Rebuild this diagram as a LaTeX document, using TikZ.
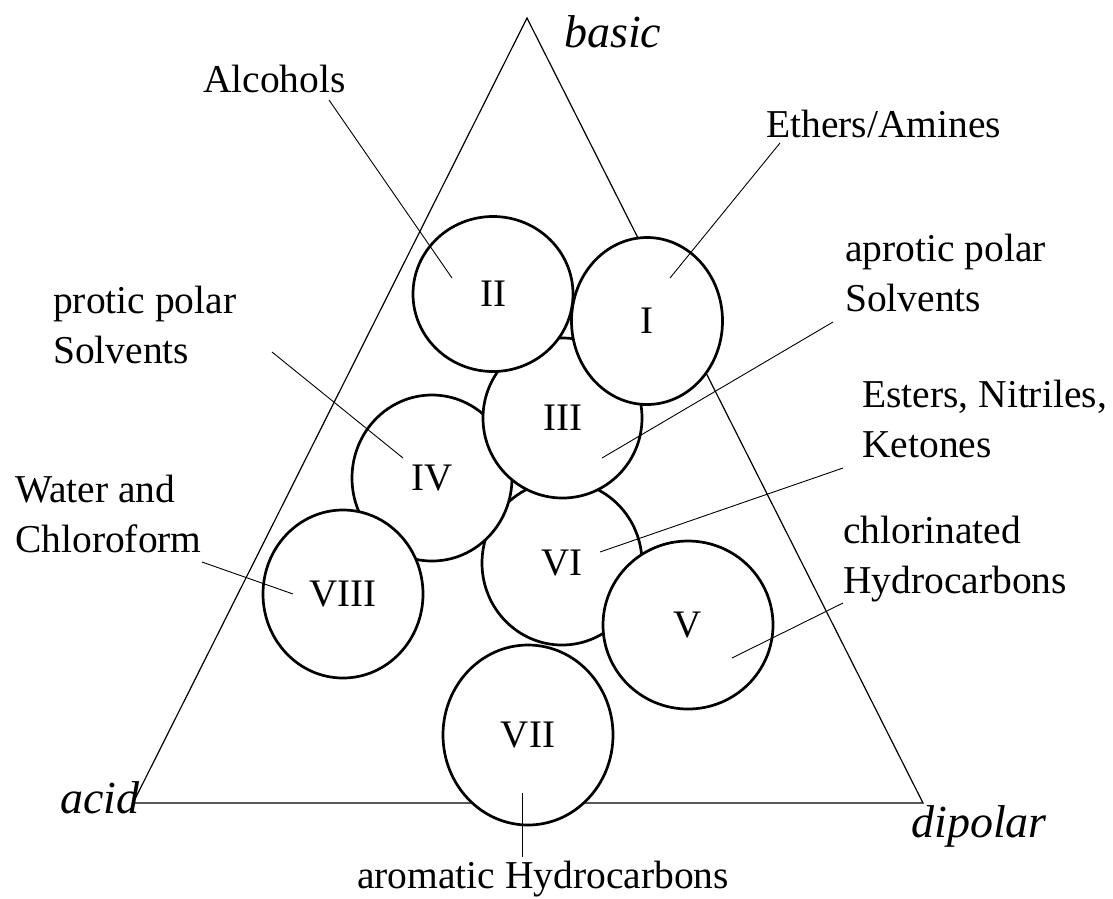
\documentclass[tikz,border=0pt]{standalone}
\usepackage{fontspec}
\setmainfont{Liberation Serif}
\usetikzlibrary{shapes.geometric}
\begin{document}
\begin{tikzpicture}[x=1pt,y=-1pt,
  circ/.style={ellipse, draw, fill=white, line width=2.7pt, inner sep=0pt, font=\fontsize{39}{46}\selectfont},
  lbl/.style={anchor=base west, inner sep=0pt, font=\fontsize{39.5}{48}\selectfont},
  corner/.style={anchor=base west, inner sep=0pt, font=\fontsize{46}{54}\selectfont\itshape},
  leader/.style={line width=0.9pt},
  tri/.style={line width=1.2pt}]
\useasboundingbox[fill=white] (0,0) rectangle (1113,898);

% triangle
\coordinate (apex) at (527,18);
\coordinate (bl) at (133,803);
\coordinate (br) at (923,803);
\draw[tri] (apex) -- (bl) -- (br) -- cycle;

% circles (drawing order gives the overlaps)
\node[circ, minimum width=160pt, minimum height=164pt] (c6) at (562,563) {VI};
\node[circ, minimum width=160pt, minimum height=166pt] (c4) at (432,478) {IV};
\node[circ, minimum width=159pt, minimum height=160pt] (c3) at (562.5,418) {III};
\node[circ, minimum width=160pt, minimum height=155pt] (c2) at (493,294) {II};
\node[circ, minimum width=151pt, minimum height=167pt] (c1) at (647,321) {I};
\node[circ, minimum width=160pt, minimum height=168pt] (c8) at (343,594) {VIII};
\node[circ, minimum width=170pt, minimum height=168pt] (c5) at (688,625) {V};
\node[circ, minimum width=170pt, minimum height=180pt] (c7) at (528,735) {VII};

% corner labels
\node[corner] (basic) at (564,47) {basic};
\node[corner] (acid) at (60,813) {acid};
\node[corner] (dipolar) at (911,837) {dipolar};

% group labels
\node[lbl] (alc) at (203,92) {Alcohols};
\node[lbl] (eth) at (766,137) {Ethers/Amines};
\node[lbl] (apr1) at (845,261) {aprotic polar};
\node[lbl] (apr2) at (845,311) {Solvents};
\node[lbl] (pro1) at (53,313) {protic polar};
\node[lbl] (pro2) at (53,363) {Solvents};
\node[lbl] (est1) at (862,407) {Esters, Nitriles,};
\node[lbl] (est2) at (862,457) {Ketones};
\node[lbl] (wat1) at (15,502) {Water and};
\node[lbl] (wat2) at (15,552) {Chloroform};
\node[lbl] (chl1) at (843,543) {chlorinated};
\node[lbl] (chl2) at (843,593) {Hydrocarbons};
\node[lbl] (aro) at (357,888) {aromatic Hydrocarbons};

% leader line ends
\coordinate (alcA) at (329,100);  \coordinate (alcB) at (452,278);
\coordinate (ethA) at (780,143);  \coordinate (ethB) at (670,278);
\coordinate (aprA) at (833,322);  \coordinate (aprB) at (602,458);
\coordinate (proA) at (272,352);  \coordinate (proB) at (403,458);
\coordinate (estA) at (843,468);  \coordinate (estB) at (600,552);
\coordinate (watA) at (202,562);  \coordinate (watB) at (293,594);
\coordinate (chlA) at (843,603);  \coordinate (chlB) at (732,658);
\coordinate (aroA) at (522,857);  \coordinate (aroB) at (522,793);

\draw[leader] (alcA) -- (alcB);
\draw[leader] (ethA) -- (ethB);
\draw[leader] (aprA) -- (aprB);
\draw[leader] (proA) -- (proB);
\draw[leader] (estA) -- (estB);
\draw[leader] (watA) -- (watB);
\draw[leader] (chlA) -- (chlB);
\draw[leader] (aroA) -- (aroB);
\end{tikzpicture}
\end{document}
